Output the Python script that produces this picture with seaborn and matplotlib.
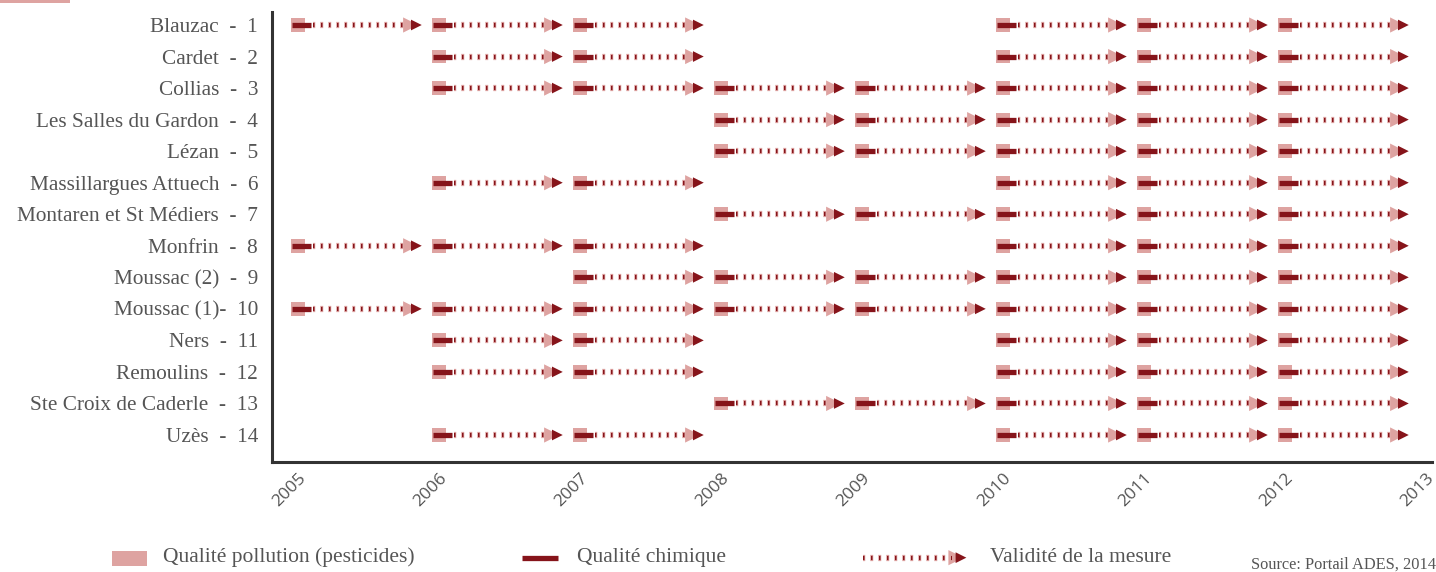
import matplotlib
matplotlib.use("Agg")
import matplotlib.pyplot as plt
import seaborn as sns
import pandas as pd

communes = ["Blauzac  -  1", "Cardet  -  2", "Collias  -  3", "Les Salles du Gardon  -  4",
            "Lézan  -  5", "Massillargues Attuech  -  6", "Montaren et St Médiers  -  7",
            "Monfrin  -  8", "Moussac (2)  -  9", "Moussac (1)-  10", "Ners  -  11",
            "Remoulins  -  12", "Ste Croix de Caderle  -  13", "Uzès  -  14"]

# années de mesure pour chaque station (même ordre que communes)
annees = [
    [2005, 2006, 2007, 2010, 2011, 2012],
    [2006, 2007, 2010, 2011, 2012],
    [2006, 2007, 2008, 2009, 2010, 2011, 2012],
    [2008, 2009, 2010, 2011, 2012],
    [2008, 2009, 2010, 2011, 2012],
    [2006, 2007, 2010, 2011, 2012],
    [2008, 2009, 2010, 2011, 2012],
    [2005, 2006, 2007, 2010, 2011, 2012],
    [2007, 2008, 2009, 2010, 2011, 2012],
    [2005, 2006, 2007, 2008, 2009, 2010, 2011, 2012],
    [2006, 2007, 2010, 2011, 2012],
    [2006, 2007, 2010, 2011, 2012],
    [2008, 2009, 2010, 2011, 2012],
    [2006, 2007, 2010, 2011, 2012],
]
ticks_annees = list(range(2005, 2014))

rose = "#dea3a1"
rouge = "#86141a"
gris = "#555555"

# motifs pointillés (unités multipliées par l'épaisseur du trait)
pointille_rose = (0.12, (0.48, 0.8))
pointille_rouge = (0, (0.36, 1.56))

rows = []
for i, liste in enumerate(annees):
    for a in liste:
        rows.append({"annee": a, "station": i + 1})
df = pd.DataFrame(rows)

fig = plt.figure(figsize=(14.36, 5.72), dpi=100)
ax = fig.add_axes([0.1894, 0.1923, 0.8078, 0.7867])
sns.set_style("white")

x = df["annee"]
y = df["station"]

# validité de la mesure : pointillés + flèche
ax.hlines(y, x + 0.11, x + 0.76, color=rose, lw=4.5, linestyles=pointille_rose, zorder=1)
ax.hlines(y, x + 0.11, x + 0.76, color=rouge, lw=3.0, linestyles=pointille_rouge, zorder=2)
sns.scatterplot(x=x + 0.80, y=y, marker=">", s=120, color=rose, edgecolor="none", ax=ax, zorder=3)
sns.scatterplot(x=x + 0.84, y=y, marker=">", s=60, color=rouge, edgecolor="none", ax=ax, zorder=4)

# qualité pollution (pesticides)
sns.scatterplot(x=x, y=y, marker="s", s=100, color=rose, edgecolor="none", ax=ax, zorder=3)
# qualité chimique
ax.hlines(y, x - 0.04, x + 0.09, color=rouge, lw=3.8, zorder=4)

ax.set_xlim(2004.816, 2013.043)
ax.set_ylim(14.856, 0.588)
ax.set_xticks(ticks_annees)
ax.set_xticklabels([str(t) for t in ticks_annees], rotation=45, ha="right",
                   rotation_mode="anchor", family="Open Sans", fontsize=12.5, color=gris)
ax.set_yticks(range(1, len(communes) + 1))
ax.set_yticklabels(communes, family="Liberation Serif", fontsize=15.3, color=gris)
ax.tick_params(axis="both", length=0)
ax.tick_params(axis="y", pad=10)
ax.tick_params(axis="x", pad=6)
ax.set_xlabel("")
ax.set_ylabel("")
for s in ["top", "right"]:
    ax.spines[s].set_visible(False)
for s in ["left", "bottom"]:
    ax.spines[s].set_color("#333333")
    ax.spines[s].set_linewidth(2.2)

# légende
lg = fig.add_axes([0, 0, 1, 0.06])
lg.set_xlim(0, 1436)
lg.set_ylim(34.32, 0)
lg.axis("off")
lg.add_patch(plt.Rectangle((112, 13), 35, 15, color=rose, lw=0))
lg.text(163, 19.5, "Qualité pollution (pesticides)", family="Liberation Serif", fontsize=15.5,
        color=gris, va="center")
lg.plot([522, 558], [20, 20], color=rouge, lw=3.8, solid_capstyle="butt")
lg.text(577, 19.5, "Qualité chimique", family="Liberation Serif", fontsize=15.5, color=gris,
        va="center")
lg.hlines([20], 863, 952, color=rose, lw=4.5, linestyles=pointille_rose)
lg.hlines([20], 863, 952, color=rouge, lw=3.0, linestyles=pointille_rouge)
lg.scatter([956], [20], marker=">", s=120, color=rose, edgecolor="none")
lg.scatter([961], [20], marker=">", s=60, color=rouge, edgecolor="none")
lg.text(990, 19.5, "Validité de la mesure", family="Liberation Serif", fontsize=15.5, color=gris,
        va="center")
lg.text(1436, 27, "Source: Portail ADES, 2014", family="Liberation Serif", fontsize=11.8,
        color=gris, ha="right", va="center")

fig.patches.append(plt.Rectangle((0, 0.994), 70 / 1436, 0.006, transform=fig.transFigure,
                                 color=rose, lw=0))

fig.savefig("out.png", dpi=100)
